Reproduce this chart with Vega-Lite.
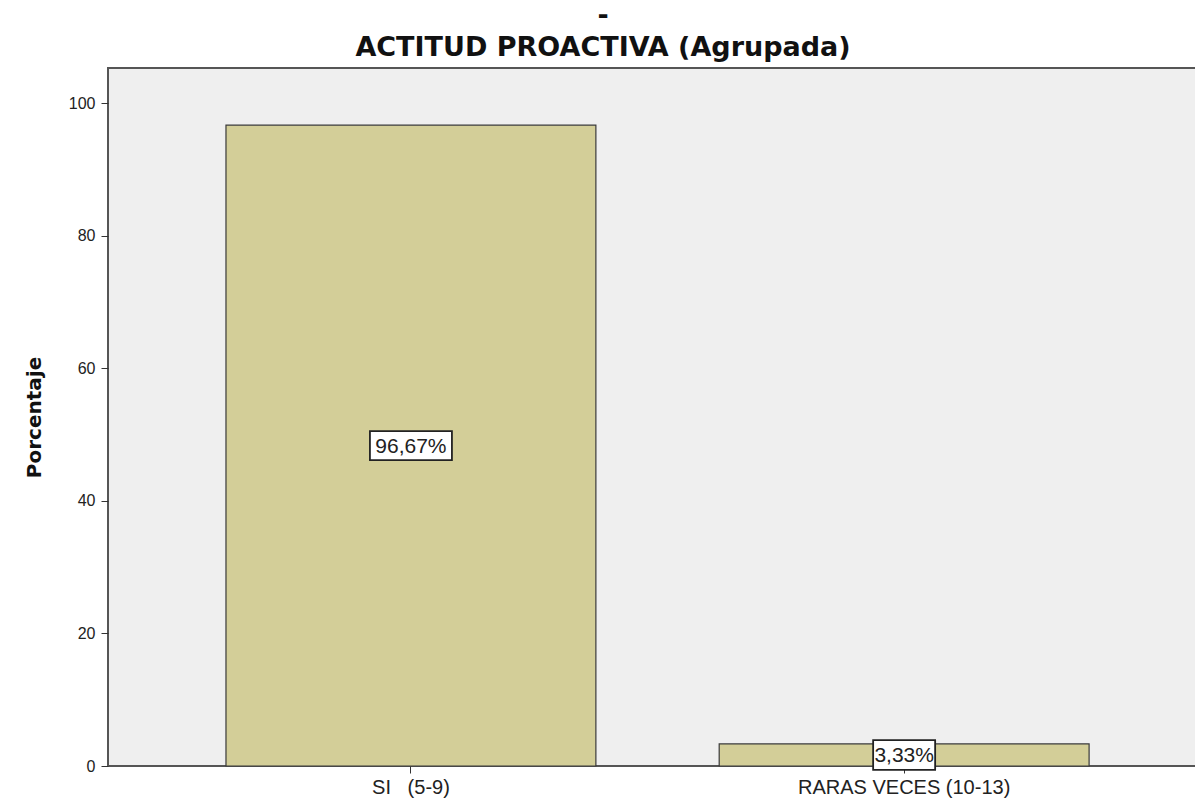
{
  "$schema": "https://vega.github.io/schema/vega-lite/v6.json",
  "autosize": "none",
  "width": 1090,
  "height": 698,
  "padding": {"left": 108, "top": 68, "right": 0, "bottom": 35},
  "background": "white",
  "config": {
    "font": "Liberation Sans",
    "view": {"fill": "#efefef", "stroke": "#555555", "strokeWidth": 2}
  },
  "title": {
    "text": ["-", "ACTITUD PROACTIVA (Agrupada)"],
    "font": "DejaVu Sans",
    "fontSize": 27,
    "fontWeight": "bold",
    "color": "#111111",
    "lineHeight": 32,
    "offset": 6,
    "anchor": "middle",
    "frame": "group",
    "dx": -50
  },
  "data": {
    "values": [
      {"categoria": "SI\u00a0\u00a0\u00a0(5-9)", "pct": 96.67, "etiqueta": "96,67%"},
      {"categoria": "RARAS VECES (10-13)", "pct": 3.33, "etiqueta": "3,33%"}
    ]
  },
  "transform": [{"calculate": "datum.pct / 2", "as": "centro"}],
  "encoding": {
    "x": {
      "field": "categoria",
      "type": "nominal",
      "sort": ["SI\u00a0\u00a0\u00a0(5-9)", "RARAS VECES (10-13)"],
      "scale": {"paddingInner": 0.25, "paddingOuter": 0.23, "align": 0.52},
      "axis": {
        "title": null,
        "labelAngle": 0,
        "labelFontSize": 20,
        "labelLimit": 0,
        "labelColor": "#222222",
        "labelPadding": 4,
        "tickColor": "#333333",
        "tickSize": 7,
        "domain": false
      }
    }
  },
  "layer": [
    {
      "mark": {"type": "bar", "fill": "#d3ce98", "stroke": "#3a3a3a", "strokeWidth": 1.2},
      "encoding": {
        "y": {
          "field": "pct",
          "type": "quantitative",
          "scale": {"domain": [0, 105.3], "nice": false},
          "axis": {
            "title": "Porcentaje",
            "titleFont": "DejaVu Sans",
            "titleFontSize": 20,
            "titleFontWeight": "bold",
            "titleColor": "#111111",
            "titlePadding": 24,
            "values": [0, 20, 40, 60, 80, 100],
            "labelFontSize": 16,
            "labelColor": "#222222",
            "labelPadding": 6,
            "tickSize": 7,
            "tickColor": "#333333",
            "domain": false,
            "grid": false
          }
        }
      }
    },
    {
      "transform": [{"filter": "datum.pct > 50"}],
      "mark": {"type": "point", "shape": "M-1,-0.354L1,-0.354L1,0.354L-1,0.354Z", "size": 6724, "filled": true, "fill": "white", "stroke": "#222222", "strokeWidth": 1.8, "opacity": 1},
      "encoding": {
        "y": {"field": "centro", "type": "quantitative"}
      }
    },
    {
      "transform": [{"filter": "datum.pct < 50"}],
      "mark": {"type": "point", "shape": "M-1,-0.48L1,-0.48L1,0.48L-1,0.48Z", "size": 3844, "filled": true, "fill": "white", "stroke": "#222222", "strokeWidth": 1.8, "opacity": 1},
      "encoding": {
        "y": {"field": "centro", "type": "quantitative"}
      }
    },
    {
      "mark": {"type": "text", "fontSize": 21, "color": "#222222", "baseline": "middle", "align": "center", "dy": 1},
      "encoding": {
        "y": {"field": "centro", "type": "quantitative"},
        "text": {"field": "etiqueta"}
      }
    }
  ]
}
